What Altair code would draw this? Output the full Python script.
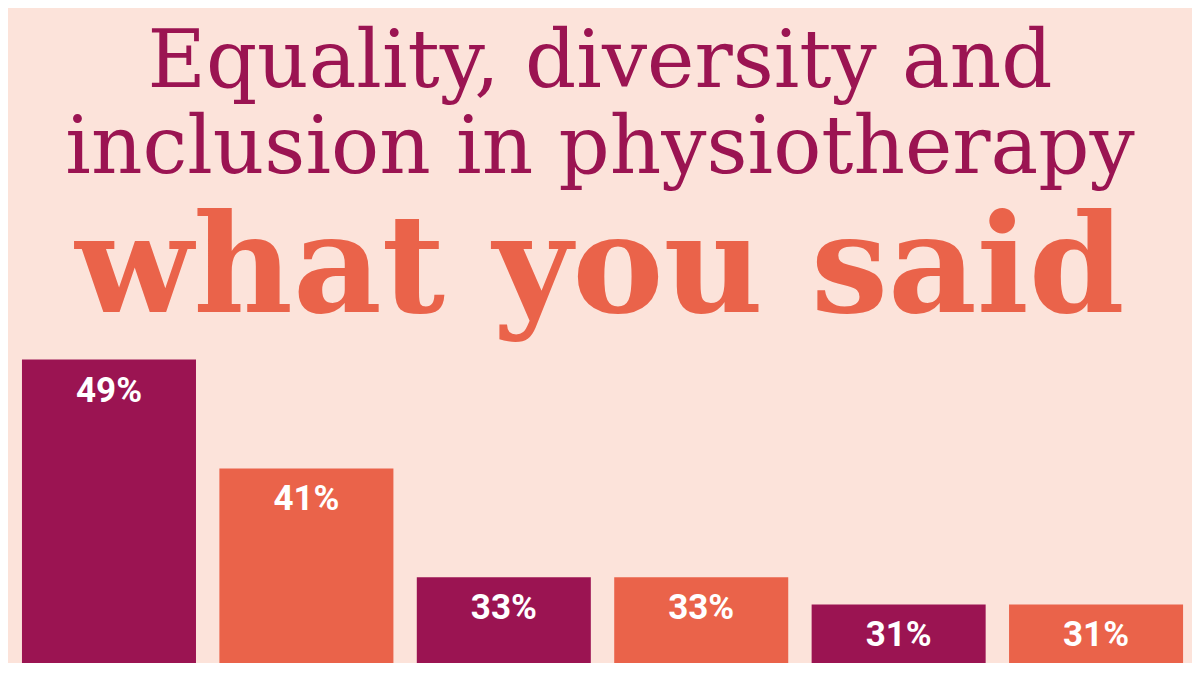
import altair as alt
import pandas as pd

# Data
bars = ["Bar 1", "Bar 2", "Bar 3", "Bar 4", "Bar 5", "Bar 6"]
values = [49, 41, 33, 33, 31, 31]
groups = ["a", "b", "a", "b", "a", "b"]

title_lines = ["Equality, diversity and", "inclusion in physiotherapy"]
subtitle = "what you said"

BG = "#FCE3DA"
MAG = "#9B1452"
ORA = "#EA634A"

df = pd.DataFrame({"bar": bars, "value": values, "grp": groups})

x = alt.X("bar:N", sort=bars, axis=None,
          scale=alt.Scale(paddingInner=0.1185, paddingOuter=0.058, align=0.61))
y = alt.Y("value:Q", axis=None, scale=alt.Scale(domain=[26.7, 50], nice=False, zero=False))

base = alt.Chart(df).encode(x=x, y=y)

barlayer = base.mark_bar(clip=True).encode(
    color=alt.Color("grp:N", scale=alt.Scale(domain=["a", "b"], range=[MAG, ORA]), legend=None)
)

labels = base.mark_text(
    font="Roboto", fontWeight="bold", fontSize=35, color="white",
    baseline="alphabetic", align="center", dy=42
).encode(text=alt.Text("label:N")).transform_calculate(label="datum.value + '%'")

chart = alt.layer(barlayer, labels).properties(
    width=1184, height=317,
    padding={"top": 15, "left": 0, "right": 0, "bottom": 0},
    background=BG,
    title=alt.Title(
        text=title_lines, subtitle=subtitle, anchor="middle",
        font="DejaVu Serif", fontSize=80, fontWeight="normal", color=MAG, lineHeight=86,
        subtitleFont="DejaVu Serif", subtitleFontSize=137, subtitleFontWeight="bold",
        subtitleColor=ORA, subtitlePadding=14, offset=6,
    ),
).configure_view(stroke=None)

chart.save("out.html", embed_options={"renderer": "svg", "actions": False})
